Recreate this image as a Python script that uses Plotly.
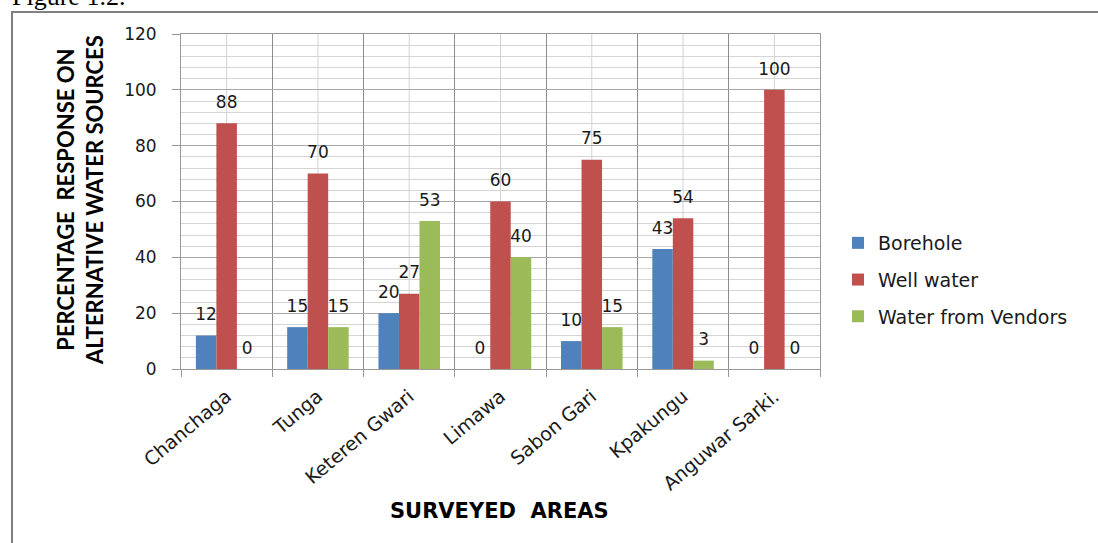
import plotly.graph_objects as go

areas = ["Chanchaga", "Tunga", "Keteren Gwari", "Limawa", "Sabon Gari", "Kpakungu", "Anguwar Sarki."]
borehole = [12, 15, 20, 0, 10, 43, 0]
well_water = [88, 70, 27, 60, 75, 54, 100]
vendors = [0, 15, 53, 40, 15, 3, 0]

series = [
    ("Borehole", borehole, "#4F81BD"),
    ("Well water", well_water, "#C0504D"),
    ("Water from Vendors", vendors, "#9BBB59"),
]

W, H = 1098, 543
L, R, T, B = 181, 278, 34, 174
PW, PH = W - L - R, H - T - B

def px(xp):
    return (xp - L) / PW

def py(yp):
    return (H - B - yp) / PH

fig = go.Figure()
for i, (name, vals, col) in enumerate(series):
    fig.add_trace(go.Bar(
        x=areas, y=vals, name=name, marker=dict(color=col, line=dict(width=0)),
        offsetgroup=str(i), alignmentgroup="a", legendgroup=str(i),
    ))
for i, (name, vals, col) in enumerate(series):
    fig.add_trace(go.Scatter(
        x=areas, y=vals, mode="markers+text", text=[str(v) for v in vals],
        textposition="top center",
        textfont=dict(family="DejaVu Sans", size=17, color="#1a1a1a"),
        marker=dict(size=16, color="rgba(0,0,0,0)"),
        offsetgroup=str(i), alignmentgroup="a", showlegend=False,
        cliponaxis=False, hoverinfo="skip",
    ))

# light centre lines of each category
for a in areas:
    fig.add_shape(type="line", xref="x", yref="paper", x0=a, x1=a, y0=0, y1=1,
                  line=dict(color="#d2d2d2", width=1), layer="below")

# outer frame
fig.add_shape(type="rect", xref="paper", yref="paper",
              x0=px(12), x1=px(1120), y0=py(12), y1=py(580),
              line=dict(color="#808080", width=2), layer="below")

fig.add_annotation(text="Figure 1.2.", xref="paper", yref="paper", x=px(10), y=py(13),
                   xanchor="left", yanchor="bottom", showarrow=False,
                   font=dict(family="Liberation Serif", size=26, color="#000"))
fig.add_annotation(text="PERCENTAGE\u00a0\u00a0RESPONSE ON<br>ALTERNATIVE WATER SOURCES",
                   xref="paper", yref="paper", x=px(80), y=py(200), textangle=-90,
                   xanchor="center", yanchor="middle", showarrow=False,
                   font=dict(family="Lato", size=22, color="#000", weight="bold"))
fig.add_annotation(text="SURVEYED\u00a0\u00a0AREAS", xref="paper", yref="paper",
                   x=px(499), y=py(511), xanchor="center", yanchor="middle", showarrow=False,
                   font=dict(family="DejaVu Sans", size=21, color="#000", weight="bold"))

fig.update_layout(
    width=W, height=H, margin=dict(l=L, r=R, t=T, b=B),
    paper_bgcolor="white", plot_bgcolor="white",
    barmode="group", bargap=0.326, bargroupgap=0, scattermode="group",
    showlegend=True,
    legend=dict(x=px(838), y=py(280), xanchor="left", yanchor="middle",
                font=dict(family="DejaVu Sans", size=19, color="#1a1a1a"),
                traceorder="grouped", tracegroupgap=9, bgcolor="rgba(0,0,0,0)"),
    xaxis=dict(type="category", tickson="boundaries", ticks="outside", ticklen=7,
               tickcolor="#999", showgrid=True, gridcolor="#8c8c8c", gridwidth=1,
               showline=True, linecolor="#999", linewidth=1, mirror=True,
               tickangle=-40, tickfont=dict(family="DejaVu Sans", size=19, color="#1a1a1a"),
               ticklabelstandoff=8),
    yaxis=dict(range=[0, 120], dtick=20, ticks="outside", ticklen=8, tickcolor="#999",
               showgrid=True, gridcolor="#a8a8a8", gridwidth=1,
               minor=dict(dtick=4, showgrid=True, gridcolor="#d4d4d4", gridwidth=1),
               showline=True, linecolor="#999", linewidth=1, mirror=True, zeroline=False,
               tickfont=dict(family="DejaVu Sans", size=17, color="#1a1a1a"),
               ticklabelstandoff=12),
)

fig.write_html("out.html")
